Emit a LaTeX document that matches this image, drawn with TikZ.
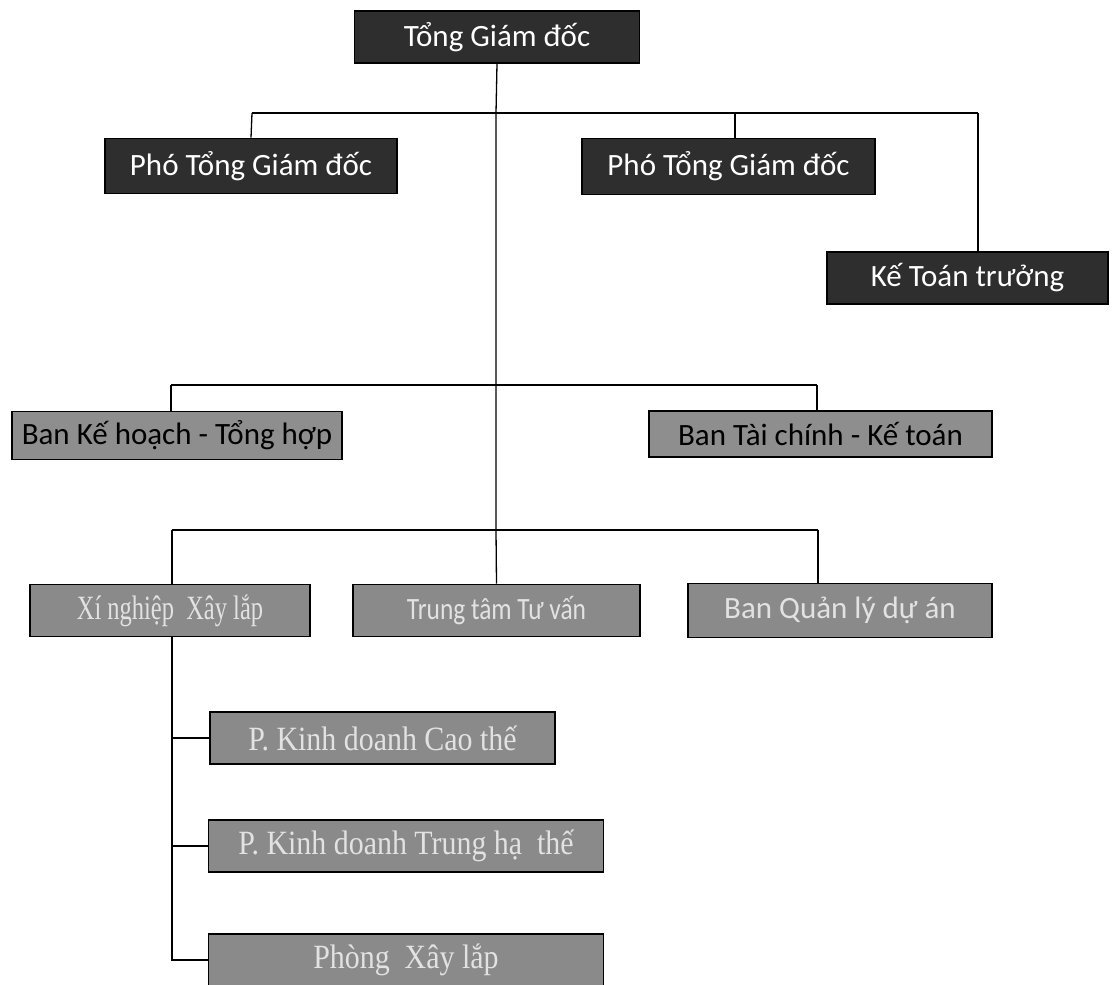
\documentclass[tikz,border=0pt]{standalone}
\usepackage{fontspec}
\setmainfont{Carlito}
\newfontfamily\serifnormal[FakeStretch=0.88]{Liberation Serif}
\newfontfamily\serifnarrow[FakeStretch=0.72]{Liberation Serif}
\newfontfamily\sansnarrow[FakeStretch=0.82]{Carlito}
\definecolor{darkbox}{HTML}{2E2E2E}
\definecolor{midbox}{HTML}{8E8E8E}
\definecolor{lightbox}{HTML}{8A8A8A}
\definecolor{lighttext}{HTML}{E2E2E2}
\tikzset{
  box/.style={draw=black, line width=1.6pt, inner sep=0pt, anchor=center,
    font=\fontsize{31}{34}\selectfont},
  darkbox/.style={box, fill=darkbox, text=white},
  midbox/.style={box, fill=midbox, text=black},
  lightbox/.style={box, fill=lightbox, text=lighttext},
  serifbox/.style={lightbox, font=\fontsize{34}{38}\selectfont},
  conn/.style={draw=black, line width=1.3pt}
}
\begin{document}
\begin{tikzpicture}[x=1pt,y=-1pt]
\useasboundingbox (0,0) rectangle (1114,985);
\fill[white] (0,0) rectangle (1114,985);

% coordinates of connector junctions
\coordinate (t1) at (496,113);
\coordinate (h1l) at (252,113);
\coordinate (h1m) at (735,113);
\coordinate (h1r) at (978,113);
\coordinate (t2) at (496,385);
\coordinate (h2l) at (171,385);
\coordinate (h2r) at (817,385);
\coordinate (t3) at (496,530);
\coordinate (h3l) at (172,530);
\coordinate (h3r) at (818,530);

% nodes
\node[darkbox, minimum width=285pt, minimum height=52pt] (tgd) at (497,37) {Tổng Giám đốc};
\node[darkbox, minimum width=292pt, minimum height=55pt] (p1) at (251,166) {Phó Tổng Giám đốc};
\node[darkbox, minimum width=293pt, minimum height=56pt] (p2) at (728.5,166.5) {Phó Tổng Giám đốc};
\node[darkbox, minimum width=281pt, minimum height=52pt] (ktt) at (967.5,278) {Kế Toán trưởng};
\node[midbox, minimum width=330pt, minimum height=48pt] (bkh) at (177,435.5) {Ban Kế hoạch - Tổng hợp};
\node[midbox, minimum width=343pt, minimum height=46pt] (btc) at (820.5,434) {Ban Tài chính - Kế toán};
\node[serifbox, minimum width=280pt, minimum height=52pt] (xn) at (170,610.5) {\serifnarrow Xí nghiệp\ \ Xây lắp};
\node[lightbox, minimum width=287pt, minimum height=52pt] (tt) at (496.5,610.5) {\sansnarrow Trung tâm Tư vấn};
\node[lightbox, minimum width=304pt, minimum height=54pt] (ql) at (840,610.5) {Ban Quản lý dự án};
\node[serifbox, minimum width=345pt, minimum height=52pt] (kd1) at (382.5,738) {\serifnormal P. Kinh doanh Cao thế};
\node[serifbox, minimum width=395pt, minimum height=52pt] (kd2) at (406,846) {\serifnormal P. Kinh doanh Trung hạ\ \ thế};
\node[serifbox, minimum width=395pt, minimum height=52pt] (px) at (406,960) {\serifnormal Phòng\ \ Xây lắp};

% connectors
\draw[conn] (tgd.south) -- (t1) -- (t2) -- (t3) -- (tt.north);
\draw[conn] (h1l) -- (h1r);
\draw[conn] (h1l) -- (p1.north);
\draw[conn] (h1m) -- (h1m |- p2.north);
\draw[conn] (h1r) -- (h1r |- ktt.north);
\draw[conn] (h2l) -- (h2r);
\draw[conn] (h2l) -- (h2l |- bkh.north);
\draw[conn] (h2r) -- (h2r |- btc.north);
\draw[conn] (h3l) -- (h3r);
\draw[conn] (h3l) -- (h3l |- xn.north);
\draw[conn] (h3r) -- (h3r |- ql.north);
\draw[conn] (h3l |- xn.south) -- (h3l |- px.west) -- (px.west);
\draw[conn] (h3l |- kd1.west) -- (kd1.west);
\draw[conn] (h3l |- kd2.west) -- (kd2.west);
\end{tikzpicture}
\end{document}
